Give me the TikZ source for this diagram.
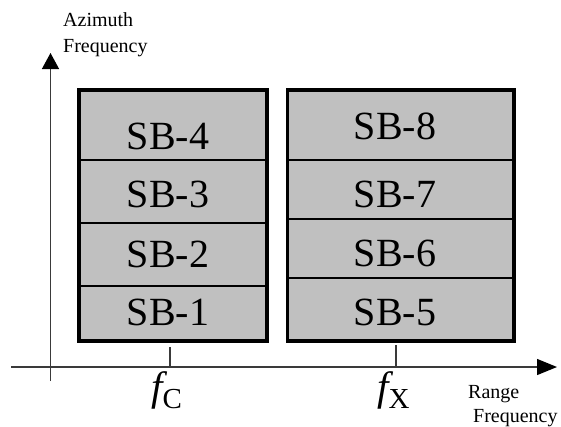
\documentclass[tikz,border=0pt]{standalone}
\usepackage{fontspec}
\setmainfont{Liberation Serif}
\usetikzlibrary{arrows.meta}
\definecolor{bandgray}{HTML}{C0C0C0}
\definecolor{axisgray}{HTML}{3A3A3A}
\begin{document}
\begin{tikzpicture}[x=1pt,y=-1pt,
  band/.style={fill=bandgray,draw=black,line width=1.1pt},
  frame/.style={draw=black,line width=3.6pt},
  sblabel/.style={anchor=base,inner sep=0pt,font=\fontsize{40}{40}\selectfont},
  axis/.style={draw=axisgray,line width=1.3pt},
  tick/.style={draw=axisgray,line width=1.3pt},
  axlabel/.style={anchor=base west,inner sep=0pt,font=\fontsize{20}{20}\selectfont},
  freqlabel/.style={anchor=base west,inner sep=0pt}
]
\useasboundingbox (0,0) rectangle (561,426);

% left block of subbands
\fill[bandgray] (79,90) rectangle (267,341);
\draw[band] (79,160) -- (267,160);
\draw[band] (79,223) -- (267,223);
\draw[band] (79,286) -- (267,286);
\draw[frame] (79,90) rectangle (267,341);

% right block of subbands
\fill[bandgray] (287.5,90) rectangle (514,341);
\draw[band] (287.5,160) -- (514,160);
\draw[band] (287.5,219) -- (514,219);
\draw[band] (287.5,278) -- (514,278);
\draw[frame] (287.5,90) rectangle (514,341);

% subband labels
\node[sblabel] (sb4) at (168,149) {SB-4};
\node[sblabel] (sb3) at (168,207) {SB-3};
\node[sblabel] (sb2) at (168,267) {SB-2};
\node[sblabel] (sb1) at (168,325) {SB-1};
\node[sblabel] (sb8) at (395,139) {SB-8};
\node[sblabel] (sb7) at (395,207) {SB-7};
\node[sblabel] (sb6) at (395,266) {SB-6};
\node[sblabel] (sb5) at (395,325) {SB-5};

% axes
\coordinate (vbot) at (50.5,381);
\coordinate (vtop) at (50.5,53);
\coordinate (hleft) at (11,367);
\coordinate (hright) at (557,367);
\draw[axis,-{Triangle[length=16pt,width=17pt,color=black]}] (vbot) -- (vtop);
\draw[axis,-{Triangle[length=20pt,width=16pt,color=black]}] (hleft) -- (hright);

% frequency ticks
\coordinate (fctop) at (170,347);
\coordinate (fcbot) at (170,367);
\coordinate (fxtop) at (396,345);
\coordinate (fxbot) at (396,367);
\draw[tick] (fctop) -- (fcbot);
\draw[tick] (fxtop) -- (fxbot);

% tick labels
\node[freqlabel] (fc) at (151,400)
  {{\fontsize{41}{41}\selectfont\itshape f}\raisebox{-8pt}{\fontsize{29}{29}\selectfont C}};
\node[freqlabel] (fx) at (377,400)
  {{\fontsize{41}{41}\selectfont\itshape f}\raisebox{-8pt}{\fontsize{29}{29}\selectfont X}};

% axis titles
\node[axlabel] (az1) at (63,26) {Azimuth};
\node[axlabel] (az2) at (63,52) {Frequency};
\node[axlabel] (rg1) at (468,398) {Range};
\node[axlabel] (rg2) at (473,422) {Frequency};
\end{tikzpicture}
\end{document}
